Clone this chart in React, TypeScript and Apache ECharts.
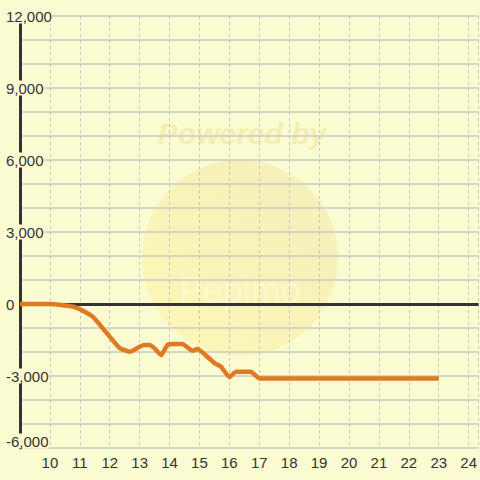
import React, { useEffect, useRef } from "react";
import * as echarts from "echarts";

const xValues = [9, 10, 10.73, 11.1, 11.43, 11.9, 12.33, 12.67, 13, 13.17, 13.33, 13.5, 13.72, 13.93, 14.17, 14.43, 14.77, 14.93, 15.33, 15.5, 15.72, 16, 16.22, 16.72, 17, 23];
const yValues = [0, 0, -100, -280, -530, -1210, -1830, -1990, -1780, -1710, -1710, -1850, -2125, -1710, -1670, -1670, -1950, -1880, -2270, -2460, -2610, -3050, -2820, -2820, -3100, -3100];
const yTicks = [12000, 9000, 6000, 3000, 0, -3000, -6000];
const xTickLabels = [10, 11, 12, 13, 14, 15, 16, 17, 18, 19, 20, 21, 22, 23, 24];

const BG = "#fbfbd2";
const FONT = "'Liberation Sans', Arial, sans-serif";

export default function App() {
  const ref = useRef<HTMLDivElement>(null);
  useEffect(() => {
    if (!ref.current) return;
    const chart = echarts.init(ref.current, undefined, { renderer: "svg" });
    const fmt = (v: number) => v.toLocaleString("en-US");
    chart.setOption({
      animation: false,
      backgroundColor: BG,
      textStyle: { fontFamily: FONT },
      grid: { left: 20, right: 0, top: 16, bottom: 32, containLabel: false },
      graphic: [
        {
          type: "circle",
          z: -10,
          silent: true,
          shape: { cx: 240, cy: 258, r: 98 },
          style: {
            fill: new echarts.graphic.LinearGradient(0, 1, 1, 0, [
              { offset: 0, color: "rgba(255,238,130,0.35)" },
              { offset: 1, color: "rgba(238,225,160,0.45)" },
            ]),
          },
        },
        {
          type: "text",
          z: -9,
          silent: true,
          x: 242,
          y: 133,
          style: {
            text: "Powered by",
            fill: "rgba(238,222,140,0.45)",
            font: "italic bold 30px " + FONT,
            align: "center",
            verticalAlign: "middle",
          },
        },
        {
          type: "text",
          z: -9,
          silent: true,
          x: 240,
          y: 290,
          style: {
            text: "Pepimo",
            fill: "rgba(255,255,235,0.45)",
            font: "36px " + FONT,
            align: "center",
            verticalAlign: "middle",
          },
        },
      ],
      xAxis: {
        type: "value",
        min: 9,
        max: 24.333,
        interval: 1,
        axisLine: { show: false },
        axisTick: { show: false },
        axisLabel: {
          color: "#333",
          fontSize: 15,
          margin: 7,
          showMaxLabel: false,
          formatter: (v: number) => (xTickLabels.includes(v) ? String(v) : ""),
        },
        splitLine: { show: true, lineStyle: { color: "#c4c4c4", type: [3, 3], width: 1 } },
      },
      yAxis: {
        type: "value",
        min: -6000,
        max: 12000,
        interval: 1000,
        axisLine: { show: true, lineStyle: { color: "#333", width: 3 } },
        axisTick: { show: false },
        z: 3,
        axisLabel: {
          color: "#333",
          fontSize: 15,
          align: "left",
          margin: 14,
          formatter: (v: number) => {
            if (!yTicks.includes(v)) return "";
            if (v === -6000) return "{a|" + fmt(v) + "}\n{c| }";
            return "{a|" + fmt(v) + "}";
          },
          rich: {
            a: { fontSize: 15, color: "#333", lineHeight: 16, backgroundColor: BG },
            c: { fontSize: 10, lineHeight: 14 },
          },
        },
        splitLine: { show: true, lineStyle: { color: "#c8c8c8", width: 1.5 } },
      },
      series: [
        {
          type: "line",
          data: [],
          silent: true,
          markLine: {
            silent: true,
            symbol: "none",
            label: { show: false },
            lineStyle: { color: "#333", width: 3, type: "solid" },
            data: [{ yAxis: 0 }],
          },
        },
        {
          type: "line",
          data: xValues.map((x, i) => [x, yValues[i]]),
          showSymbol: false,
          symbol: "none",
          smooth: 0.15,
          lineStyle: { color: "#e07a22", width: 4.5 },
          z: 5,
        },
      ],
    });
    return () => chart.dispose();
  }, []);
  return <div ref={ref} style={{ position: "fixed", left: 0, top: 0, width: 480, height: 480 }} />;
}
